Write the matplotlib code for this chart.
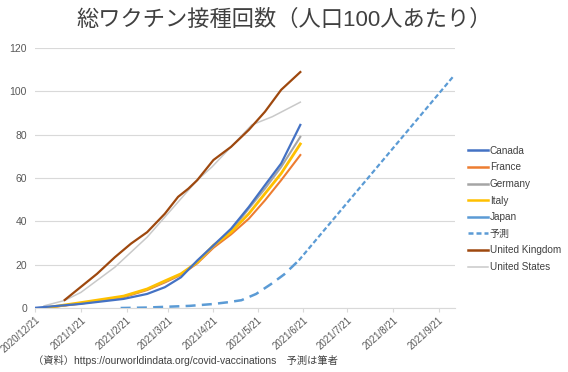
import matplotlib
matplotlib.use("Agg")
import matplotlib.pyplot as plt
from matplotlib.lines import Line2D
import numpy as np

plt.rcParams['font.family'] = ['Liberation Sans', 'Noto Sans CJK JP', 'DejaVu Sans']

# ---- data (doses per 100 people) ----
uk_dates = ["2021-01-10", "2021-02-01", "2021-02-13", "2021-02-24", "2021-03-07",
            "2021-03-19", "2021-03-28", "2021-04-04", "2021-04-10", "2021-04-21",
            "2021-05-03", "2021-05-15", "2021-05-26", "2021-06-06", "2021-06-19"]
uk_vals = [3.7, 15.8, 23.4, 29.7, 35.0, 43.5, 51.3, 55.1, 59.0, 68.3,
           74.4, 82.2, 90.6, 100.7, 108.9]

us_dates = ["2020-12-27", "2021-01-10", "2021-01-21", "2021-02-13", "2021-03-07",
            "2021-03-25", "2021-04-10", "2021-04-20", "2021-05-03", "2021-05-17",
            "2021-05-31", "2021-06-19"]
us_vals = [1.0, 3.5, 7.2, 18.8, 32.7, 46.6, 59.0, 65.1, 74.4, 84.5, 88.3, 95.0]

ca_dates = ["2020-12-21", "2021-01-21", "2021-02-19", "2021-03-07", "2021-03-19",
            "2021-03-30", "2021-04-10", "2021-04-21", "2021-05-03", "2021-05-15",
            "2021-05-26", "2021-06-06", "2021-06-19"]
ca_vals = [0.1, 1.9, 4.2, 6.5, 9.6, 14.2, 21.9, 28.9, 36.6, 46.6, 56.7, 66.7, 84.5]

fr_dates = ["2020-12-27", "2021-01-21", "2021-02-19", "2021-03-07", "2021-03-19",
            "2021-03-30", "2021-04-10", "2021-04-21", "2021-05-03", "2021-05-15",
            "2021-05-26", "2021-06-06", "2021-06-19"]
fr_vals = [0.0, 2.0, 5.0, 8.3, 11.8, 15.3, 20.6, 27.8, 34.0, 41.2, 49.7, 59.0, 70.6]

de_dates = fr_dates
de_vals = [0.0, 2.2, 5.3, 8.6, 12.2, 15.6, 21.0, 28.5, 35.5, 45.9, 55.1, 65.1, 79.0]

it_dates = fr_dates
it_vals = [0.0, 2.5, 5.5, 8.8, 12.5, 15.8, 21.1, 28.9, 35.0, 43.5, 52.8, 62.1, 75.7]

jp_dates = ["2021-02-17", "2021-03-06", "2021-03-21", "2021-04-05", "2021-04-20",
            "2021-04-30", "2021-05-10", "2021-05-20", "2021-05-30", "2021-06-08",
            "2021-06-18"]
jp_vals = [0.0, 0.2, 0.6, 1.0, 1.8, 2.6, 3.6, 6.5, 11.0, 15.5, 22.0]

fc_dates = ["2021-06-18", "2021-10-01"]
fc_vals = [22.0, 107.0]

title = "総ワクチン接種回数（人口100人あたり）"
source = "（資料）https://ourworldindata.org/covid-vaccinations　予測は筆者"
tick_dates = ["2020-12-21", "2021-01-21", "2021-02-21", "2021-03-21", "2021-04-21",
              "2021-05-21", "2021-06-21", "2021-07-21", "2021-08-21", "2021-09-21"]

COLORS = {"Canada": "#4472C4", "France": "#ED7D31", "Germany": "#A5A5A5",
          "Italy": "#FFC000", "Japan": "#5B9BD5", "予測": "#5B9BD5",
          "United Kingdom": "#9E480E", "United States": "#C9C9C9"}


def d(lst):
    return np.array(lst, dtype="datetime64[D]").astype("O")


fig = plt.figure(figsize=(5.68, 3.72), dpi=100)
ax = fig.add_axes([0.062, 0.172, 0.739, 0.699])

ax.plot(d(us_dates), us_vals, color=COLORS["United States"], lw=1.1)
ax.plot(d(uk_dates), uk_vals, color=COLORS["United Kingdom"], lw=1.6)
ax.plot(d(jp_dates), jp_vals, color=COLORS["Japan"], lw=1.8, dashes=(4, 2.5))
ax.plot(d(fc_dates), fc_vals, color=COLORS["予測"], lw=1.6, dashes=(2.2, 1.2))
ax.plot(d(fr_dates), fr_vals, color=COLORS["France"], lw=1.5)
ax.plot(d(de_dates), de_vals, color=COLORS["Germany"], lw=1.5)
ax.plot(d(it_dates), it_vals, color=COLORS["Italy"], lw=2.0)
ax.plot(d(ca_dates), ca_vals, color=COLORS["Canada"], lw=1.6)

ax.set_xlim(np.datetime64("2020-12-21").astype("O"), np.datetime64("2021-10-02").astype("O"))
ax.set_ylim(0, 120)
ax.set_yticks(np.arange(0, 121, 20))
ax.grid(axis="y", color="#D9D9D9", lw=0.8)
ax.set_axisbelow(True)
for s in ["top", "right", "left"]:
    ax.spines[s].set_visible(False)
ax.spines["bottom"].set_color("#D9D9D9")
ax.spines["bottom"].set_zorder(0.5)

ticks = d(tick_dates)
ax.set_xticks(ticks)
ax.set_xticklabels([f"{t.year}/{t.month}/{t.day}" for t in ticks],
                   rotation=42, ha="right", rotation_mode="anchor",
                   fontsize=7, color="#595959")
ax.tick_params(axis="x", length=3, color="#D9D9D9", pad=2)
ax.tick_params(axis="y", length=0, labelsize=7.5, labelcolor="#595959", pad=6)

fig.text(0.5, 0.945, title, ha="center", va="center", fontsize=16, color="#404040")
fig.text(0.058, 0.032, source, ha="left", va="center", fontsize=7.4, color="#404040")

names = ["Canada", "France", "Germany", "Italy", "Japan", "予測",
         "United Kingdom", "United States"]
handles = []
for n in names:
    if n == "予測":
        handles.append(Line2D([], [], color=COLORS[n], lw=1.8, dashes=(2, 1.2)))
    else:
        lw = 1.1 if n == "United States" else 1.8
        handles.append(Line2D([], [], color=COLORS[n], lw=lw))
fig.legend(handles, names, loc="upper left", bbox_to_anchor=(0.808, 0.632),
           frameon=False, fontsize=7.2, handlelength=2.0, handletextpad=0.2,
           labelspacing=0.66, labelcolor="#404040")

fig.savefig("out.png", dpi=100)
